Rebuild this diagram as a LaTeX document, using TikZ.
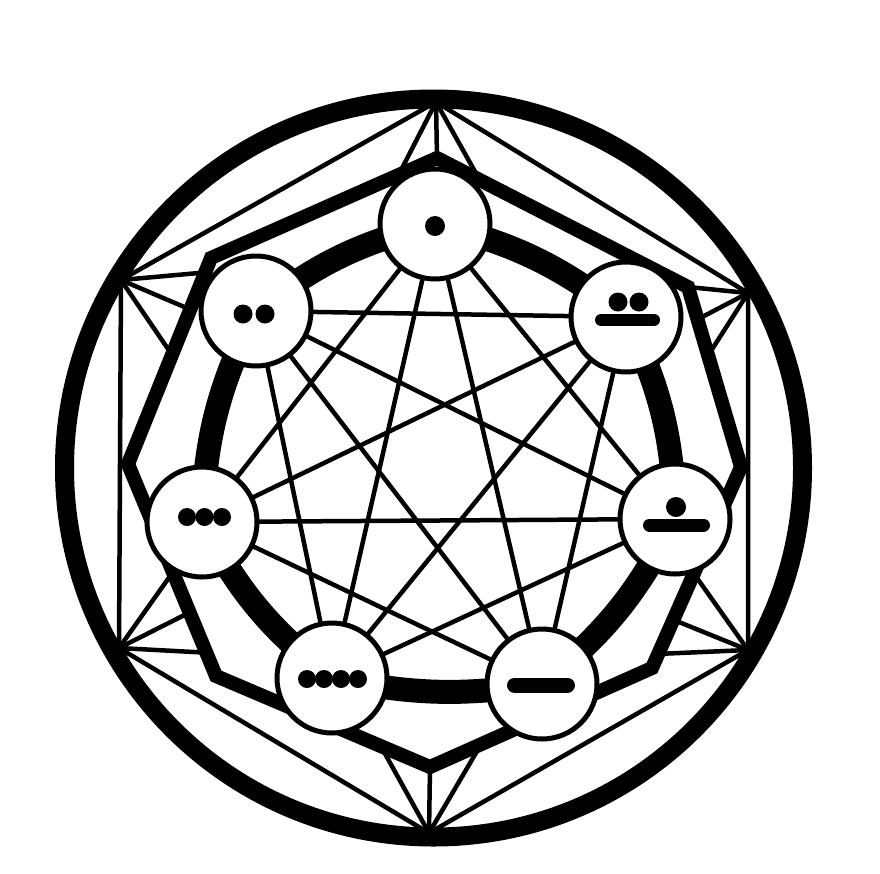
\documentclass[tikz,border=0pt]{standalone}
\usetikzlibrary{calc}
\pgfdeclarelayer{bglayer}
\pgfdeclarelayer{midlayer}
\pgfsetlayers{bglayer,midlayer,main}
\begin{document}
\begin{tikzpicture}[x=1pt,y=-1pt,
  thinline/.style={line width=4.5pt},
  octaband/.style={line width=14pt, line join=miter},
  ringline/.style={line width=19pt},
  arcband/.style={line width=24pt},
  numcircle/.style={circle, draw, fill=white, line width=5pt, minimum size=110pt, inner sep=0pt},
  barmark/.style={line cap=round}
]
\useasboundingbox (0,0) rectangle (880,873);

% heptagon of numeral circles
\node[numcircle] (c1) at (435,224) {};
\node[numcircle] (c2) at (256,311) {};
\node[numcircle] (c3) at (202,522) {};
\node[numcircle] (c4) at (332,678) {};
\node[numcircle] (c5) at (542,684) {};
\node[numcircle] (c6) at (675,519) {};
\node[numcircle] (c7) at (626,317) {};

% numerals
\fill (435,226) circle[radius=10];
\fill (243,314) circle[radius=9.5];
\fill (265,314) circle[radius=9.5];
\foreach \xx in {187,204.5,222} \fill (\xx,517) circle[radius=9];
\foreach \xx in {307,324,341,358} \fill (\xx,679) circle[radius=9];
\draw[barmark, line width=15pt] (514.5,685) -- (567.5,685);
\fill (676,507) circle[radius=10];
\draw[barmark, line width=13pt] (649.5,525) -- (703.5,525);
\fill (618,302) circle[radius=9.5];
\fill (639,302) circle[radius=9.5];
\draw[barmark, line width=12pt] (601,320) -- (654,320);

\begin{pgfonlayer}{bglayer}
\fill[white] (0,0) rectangle (880,873);
\coordinate (O) at (433.5,468);
% hexagon vertices
\coordinate (hT) at (436,102);
\coordinate (hUR) at (748,293);
\coordinate (hLR) at (748,650);
\coordinate (hB) at (429,833);
\coordinate (hLL) at (119,648);
\coordinate (hUL) at (121,280);
% octagon vertices
\coordinate (oT) at (437,158);
\coordinate (oUR) at (688,287);
\coordinate (oR) at (741,467);
\coordinate (oLR) at (652,668);
\coordinate (oB) at (430,767);
\coordinate (oLL) at (216,676);
\coordinate (oL) at (128,464);
\coordinate (oUL) at (211,258);
% hexagon
\draw[thinline] (hT) -- (hUR) -- (hLR) -- (hB) -- (hLL) -- (hUL) -- cycle;
% fans
\draw[thinline] (hT) -- (oT);
\draw[thinline] (hT) -- ($(oT)!0.17!(oUL)$);
\draw[thinline] (hT) -- ($(oT)!0.17!(oUR)$);
\draw[thinline] (hUL) -- ($(oUL)!0.07!(oL)$);
\draw[thinline] (hUL) -- ($(oUL)!0.25!(oL)$);
\draw[thinline] (hUL) -- ($(oUL)!0.47!(oL)$);
\draw[thinline] (hLL) -- ($(oL)!0.51!(oLL)$);
\draw[thinline] (hLL) -- ($(oL)!0.70!(oLL)$);
\draw[thinline] (hLL) -- ($(oL)!0.89!(oLL)$);
\draw[thinline] (hUR) -- (oUR);
\draw[thinline] (hUR) -- ($(oUR)!0.18!(oR)$);
\draw[thinline] (hUR) -- ($(oUR)!0.38!(oR)$);
\draw[thinline] (hLR) -- ($(oR)!0.53!(oLR)$);
\draw[thinline] (hLR) -- ($(oR)!0.76!(oLR)$);
\draw[thinline] (hLR) -- ($(oR)!0.93!(oLR)$);
\draw[thinline] (hB) -- (oB);
\draw[thinline] (hB) -- ($(oB)!0.23!(oLL)$);
\draw[thinline] (hB) -- ($(oB)!0.23!(oLR)$);
% octagon band
\draw[octaband] (oT) -- (oUR) -- (oR) -- (oLR) -- (oB) -- (oLL) -- (oL) -- (oUL) -- cycle;
% outer ring
\draw[ringline] (O) circle[radius=369];
\end{pgfonlayer}

\begin{pgfonlayer}{midlayer}
\draw[arcband] (c1.center) to[bend right=12] (c2.center);
\draw[arcband] (c2.center) to[bend right=12] (c3.center);
\draw[arcband] (c3.center) to[bend right=12] (c4.center);
\draw[arcband] (c4.center) to[bend right=10] (c5.center);
\draw[arcband] (c5.center) to[bend right=12] (c6.center);
\draw[arcband] (c6.center) to[bend right=12] (c7.center);
\draw[arcband] (c7.center) to[bend right=12] (c1.center);
\foreach \a/\b in {1/3,1/4,1/5,1/6,2/4,2/5,2/6,2/7,3/5,3/6,3/7,4/6,4/7,5/7}
  \draw[thinline] (c\a.center) -- (c\b.center);
\end{pgfonlayer}
\end{tikzpicture}
\end{document}
